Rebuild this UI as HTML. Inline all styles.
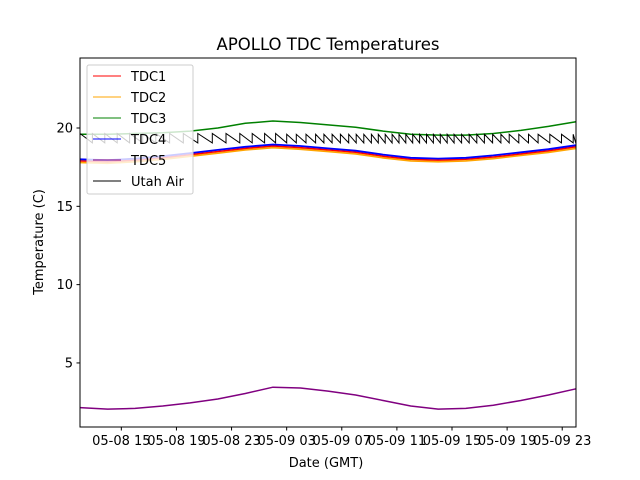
<!DOCTYPE html>
<html><head><meta charset="utf-8"><style>
body{margin:0;background:#fff}
svg{display:block;font-family:"DejaVu Sans","Liberation Sans",sans-serif}
</style></head><body>
<svg id="chart" width="640" height="480" viewBox="0 0 640 480" xmlns="http://www.w3.org/2000/svg">
<rect width="640" height="480" fill="#fff"/>
<text x="328" y="50" text-anchor="middle" font-size="16.5">APOLLO TDC Temperatures</text>
<g id="series"></g>
<rect x="80" y="58" width="496" height="369" fill="none" stroke="#000" stroke-width="1"/>
<g id="axes"></g>
<text x="326" y="467" text-anchor="middle" font-size="13">Date (GMT)</text>
<text transform="translate(43,242) rotate(-90)" text-anchor="middle" font-size="13">Temperature (C)</text>
<g id="legend"></g>
</svg>
<script>
const hours = [12,14,16,18,20,22,24,26,28,30,32,34,36,38,40,42,44,46,48];
const tdc3 = [19.6,19.6,19.65,19.7,19.8,20.0,20.3,20.45,20.35,20.2,20.05,19.8,19.6,19.55,19.55,19.65,19.85,20.1,20.4];
const tdc4 = [18.0,17.95,18.05,18.2,18.4,18.6,18.8,18.95,18.85,18.7,18.55,18.3,18.1,18.05,18.1,18.25,18.45,18.65,18.9];
const tdc1 = [17.9,17.85,17.95,18.1,18.3,18.5,18.7,18.85,18.75,18.6,18.45,18.2,18.0,17.95,18.0,18.15,18.35,18.55,18.8];
const tdc2 = [17.8,17.75,17.85,18.0,18.2,18.4,18.6,18.75,18.65,18.5,18.35,18.1,17.9,17.85,17.9,18.05,18.25,18.45,18.7];
const tdc5 = [2.15,2.05,2.1,2.25,2.45,2.7,3.05,3.45,3.4,3.2,2.95,2.6,2.25,2.05,2.1,2.3,2.6,2.95,3.35];
// Utah Air sawtooth: cycle period (hours) within each 2h bucket, high/low temps
const airPeriod = [0.9,0.9,0.95,1.0,1.05,1.0,0.9,0.8,0.7,0.6,0.55,0.5,0.5,0.5,0.55,0.6,0.7,0.85,0.95];
const airHigh = [19.65,19.65,19.65,19.65,19.65,19.65,19.65,19.65,19.6,19.6,19.6,19.6,19.6,19.6,19.6,19.6,19.6,19.6,19.6];
const airLow = [19.05,19.05,19.05,19.05,19.05,19.05,19.05,19.05,19.05,19.05,19.05,19.05,19.05,19.05,19.05,19.05,19.05,19.05,19.0];
const yTicks = [5,10,15,20];
const xTickHours = [15,19,23,27,31,35,39,43,47];
const xTickLabels = ["05-08 15","05-08 19","05-08 23","05-09 03","05-09 07","05-09 11","05-09 15","05-09 19","05-09 23"];

const NS="http://www.w3.org/2000/svg";
const X0=80,X1=576,Y0=58,Y1=427,HMIN=12,HMAX=48.0,VMIN=0.91,VMAX=24.47;
function xs(h){return X0+(h-HMIN)*(X1-X0)/(HMAX-HMIN);}
function ys(v){return Y1-(v-VMIN)*(Y1-Y0)/(VMAX-VMIN);}
function mk(tag,attrs,parent){const e=document.createElementNS(NS,tag);for(const k in attrs)e.setAttribute(k,attrs[k]);parent.appendChild(e);return e;}
const S=document.getElementById('series'),A=document.getElementById('axes'),L=document.getElementById('legend');
function bucket(h){let i=Math.round((h-HMIN)/2);return Math.max(0,Math.min(hours.length-1,i));}
let pts=[],h=HMIN;
while(h<HMAX){const b=bucket(h);const p=airPeriod[b];pts.push([h,airHigh[b]]);const e=Math.min(h+p,HMAX);pts.push([e,airLow[b]]);h=e;}
function draw(vals,color,name,w){
  const d=hours.map((hh,i)=>(i?'L':'M')+xs(hh).toFixed(1)+' '+ys(vals[i]).toFixed(1)).join(' ');
  const p=mk('path',{d:d,fill:'none',stroke:color,'stroke-width':w,'stroke-linejoin':'round'},S);
  
  
}
const ad=pts.map((q,i)=>(i?'L':'M')+xs(q[0]).toFixed(1)+' '+ys(q[1]).toFixed(1)).join(' ');
draw(tdc2,'orange','series-tdc2',1.8);
draw(tdc1,'red','series-tdc1',1.5);
draw(tdc4,'blue','series-tdc4',1.8);
draw(tdc3,'green','series-tdc3',1.5);
draw(tdc5,'purple','series-tdc5',1.5);
const ap=mk('path',{d:ad,fill:'none',stroke:'#000','stroke-width':1},S);


yTicks.forEach(v=>{
  const y=ys(v);
  const t=mk('line',{x1:X0-3.5,x2:X0,y1:y,y2:y,stroke:'#000'},A);
  
  
  const tx=mk('text',{x:X0-7,y:y+4.5,'text-anchor':'end','font-size':13},A);
  tx.textContent=v;
  
  
});
xTickHours.forEach((hh,i)=>{
  const x=xs(hh);
  const t=mk('line',{x1:x,x2:x,y1:Y1,y2:Y1+3.5,stroke:'#000'},A);
  
  
  const tx=mk('text',{x:x,y:Y1+18,'text-anchor':'middle','font-size':13},A);
  tx.textContent=xTickLabels[i];
  
  
});
const lb=mk('rect',{x:87,y:65,width:106,height:129,rx:2,fill:'#fff','fill-opacity':0.8,stroke:'#ccc'},L);


const names=["TDC1","TDC2","TDC3","TDC4","TDC5","Utah Air"];
const cols=["red","orange","green","blue","purple","#000"];
names.forEach((n,i)=>{
  const y=76+i*21;
  const g=mk('g',{},L);
  
  
  mk('line',{x1:93,x2:121,y1:y,y2:y,stroke:cols[i],'stroke-width':1},g);
  const t=mk('text',{x:131,y:y+5,'font-size':13},g);
  t.textContent=n;
});
</script>
</body></html>
